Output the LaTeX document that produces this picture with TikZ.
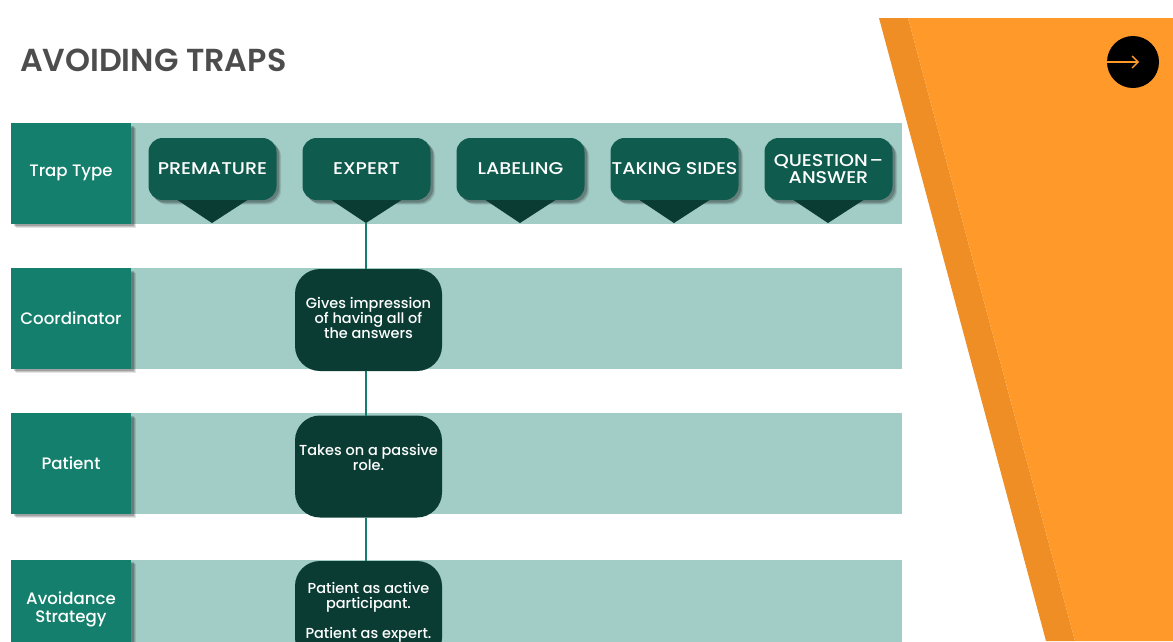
\documentclass[tikz,border=0pt]{standalone}
\usepackage{fontspec}
\setmainfont{Poppins}[UprightFont=* Medium]
\newfontfamily\titlefont{Poppins}[UprightFont=* SemiBold]
\newfontfamily\capsfont{Poppins}[UprightFont=* Medium, FakeStretch=1.12]
\usetikzlibrary{positioning,shadows,arrows.meta}

\definecolor{tealbox}{HTML}{147F6C}
\definecolor{bandfill}{HTML}{A2CCC6}
\definecolor{calloutfill}{HTML}{0F5B4E}
\definecolor{detailfill}{HTML}{0A3C33}
\definecolor{orangemain}{HTML}{FF9A2A}
\definecolor{orangedark}{HTML}{EE8E24}
\definecolor{titlegrey}{HTML}{4D4D4D}

\begin{document}
\begin{tikzpicture}[
    x=1pt, y=-1pt,
    every node/.style={inner sep=0pt, outer sep=0pt, text=white, align=center},
    softshadow/.style={
        drop shadow={shadow xshift=4.5pt, shadow yshift=-4.5pt, fill=black, opacity=0.10},
        drop shadow={shadow xshift=3.5pt, shadow yshift=-3.5pt, fill=black, opacity=0.14},
        drop shadow={shadow xshift=2.5pt, shadow yshift=-2.5pt, fill=black, opacity=0.18}},
    rowlabel/.style={fill=tealbox, minimum width=120pt, minimum height=100.5pt, font=\fontsize{16.6}{18}\selectfont, softshadow},
    band/.style={fill=bandfill, minimum width=771pt, minimum height=100.5pt},
    callout/.style={fill=calloutfill, rounded corners=14pt, minimum width=128pt, minimum height=62pt, font=\capsfont\fontsize{17}{17}\selectfont, softshadow},
    detail/.style={fill=detailfill, rounded corners=25pt, minimum width=147pt, minimum height=102pt, font=\fontsize{14.5}{15}\selectfont},
    tip/.style={fill=detailfill},
    link/.style={draw=tealbox, line width=2pt}
]
\path[use as bounding box, clip] (0,0) rectangle (1173,641);

% orange panel
\fill[orangedark] (879,18) -- (908,18) -- (1075,641) -- (1046,641) -- cycle;
\fill[orangemain] (908,18) -- (1173,18) -- (1173,641) -- (1075,641) -- cycle;
\node[fill=black, circle, minimum size=52pt] (nextbtn) at (1133,62) {};
\coordinate (nextend) at (1139,62);
\draw[orangemain, line width=1.3pt, -{Straight Barb[length=6pt,width=12pt]}] (nextbtn.west) -- (nextend);

% title
\node[anchor=west, text=titlegrey, font=\titlefont\fontsize{31.8}{32}\selectfont] (title) at (20,60) {AVOIDING TRAPS};

% bands
\node[band] (bandtrap) at (516.5,173.25) {};
\node[band, below=44.5pt of bandtrap] (bandcoord) {};
\node[band, below=44.5pt of bandcoord] (bandpatient) {};
\node[band, below=46pt of bandpatient] (bandavoid) {};

% row labels
\node[rowlabel, left=0pt of bandtrap] (traptype) {Trap Type};
\node[rowlabel, left=0pt of bandcoord] (coordinator) {Coordinator};
\node[rowlabel, left=0pt of bandpatient] (patient) {Patient};
\node[rowlabel, left=0pt of bandavoid] (avoidance) {Avoidance\\Strategy};

% tips under the trap types
\coordinate (prematuretip) at (212,223);
\coordinate (experttip) at (366,223);
\coordinate (labelingtip) at (520,223);
\coordinate (takingtip) at (674,223);
\coordinate (questiontip) at (828,223);

% trap types
\node[callout] (premature) at (212.5,169) {PREMATURE};
\node[callout, right=26pt of premature] (expert) {EXPERT};
\node[callout, right=26pt of expert] (labeling) {LABELING};
\node[callout, right=26pt of labeling] (takingsides) {TAKING SIDES};
\node[callout, right=26pt of takingsides] (question) {QUESTION\kern-3pt{} –\\ANSWER};

\fill[tip] ([xshift=-35pt]premature.south) -- ([xshift=35pt]premature.south) -- (prematuretip) -- cycle;
\fill[tip] ([xshift=-35pt]expert.south) -- ([xshift=35pt]expert.south) -- (experttip) -- cycle;
\fill[tip] ([xshift=-35pt]labeling.south) -- ([xshift=35pt]labeling.south) -- (labelingtip) -- cycle;
\fill[tip] ([xshift=-35pt]takingsides.south) -- ([xshift=35pt]takingsides.south) -- (takingtip) -- cycle;
\fill[tip] ([xshift=-35pt]question.south) -- ([xshift=35pt]question.south) -- (questiontip) -- cycle;

% expert column
\node[detail] (gives) at (368.5,320) {Gives impression\\of having all of\\the answers\\[-11pt]~};
\node[detail] (passive) at (368.5,466.5) {Takes on a passive\\role.\\[4pt]~};
\node[detail] (active) at (368.5,612) {Patient as active\\participant.\\~\\Patient as expert.};

% connectors
\draw[link] (experttip) -- (experttip |- gives.north);
\draw[link] (experttip |- gives.south) -- (experttip |- passive.north);
\draw[link] (experttip |- passive.south) -- (experttip |- active.north);

\end{tikzpicture}
\end{document}
